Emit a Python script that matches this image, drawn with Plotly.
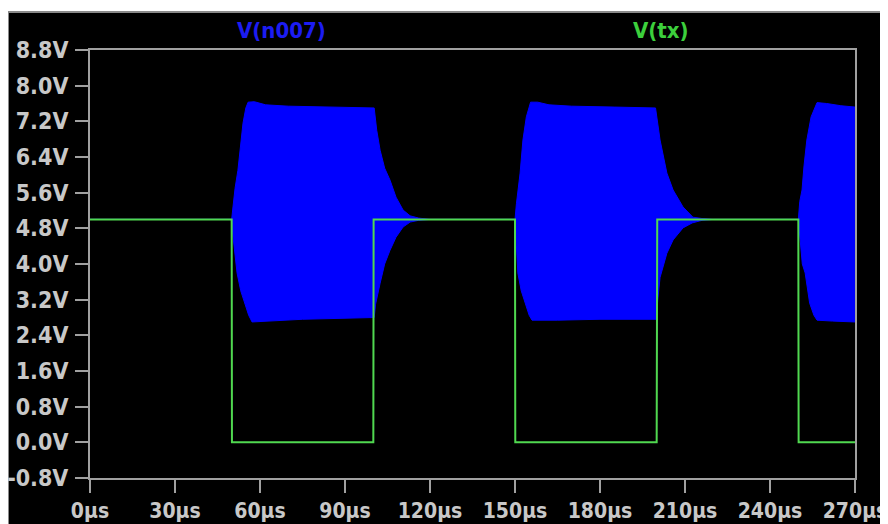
import plotly.graph_objects as go

# ---- data ----
# V(tx): square wave (time in µs, volts)
tx_time = [0, 50.0, 50.1, 100.0, 100.1, 150.0, 150.1, 200.0, 200.2, 250.0, 250.1, 270]
tx_volts = [5.0, 5.0, 0.0, 0.0, 5.0, 5.0, 0.0, 0.0, 5.0, 5.0, 0.0, 0.0]

# V(n007): dense oscillation, drawn as its upper / lower envelope
n007_upper_time = [0, 50.0, 50.5, 51.2, 52.2, 53.2, 54.0, 55.0, 55.8, 58, 62, 70, 85, 100.3,
                   101.2, 102.4, 104, 105.9, 108, 110.5, 113, 116, 120,
                   150.0, 150.5, 151.2, 151.8, 152.8, 154, 155.5, 158, 162, 170, 185, 199.6,
                   201.2, 203.6, 205.8, 209.3, 212.8, 216, 220,
                   250.0, 250.5, 251.3, 252, 253, 254.5, 256.6, 260, 265, 270]
n007_upper = [5.0, 5.0, 5.3, 5.7, 6.1, 6.7, 7.16, 7.5, 7.63, 7.64, 7.57, 7.54, 7.52, 7.5,
              7.0, 6.55, 6.15, 5.88, 5.5, 5.21, 5.08, 5.03, 5.0,
              5.0, 5.35, 5.75, 6.04, 6.78, 7.3, 7.63, 7.63, 7.57, 7.54, 7.52, 7.5,
              6.78, 6.04, 5.66, 5.28, 5.05, 5.02, 5.0,
              5.0, 5.4, 5.66, 6.2, 6.78, 7.3, 7.62, 7.6, 7.55, 7.52]

n007_lower_time = [0, 50.0, 50.5, 51.2, 51.9, 53.2, 54.7, 56, 57.2, 62, 75, 100.3,
                   100.8, 102.4, 104, 105.9, 108, 110.5, 113, 116, 120,
                   150.0, 150.5, 151.0, 152.2, 153.5, 155, 156, 165, 180, 199.8,
                   200.4, 201.2, 203.6, 205.8, 209.3, 212.5, 216, 220,
                   250.0, 250.6, 251.4, 252.4, 254, 255.5, 256.6, 262, 270]
n007_lower = [5.0, 5.0, 4.6, 4.2, 3.8, 3.4, 3.12, 2.85, 2.7, 2.72, 2.76, 2.8,
              3.1, 3.57, 4.0, 4.31, 4.6, 4.83, 4.94, 4.98, 5.0,
              5.0, 4.5, 3.8, 3.4, 3.12, 2.85, 2.74, 2.74, 2.76, 2.76,
              3.2, 3.7, 4.24, 4.54, 4.81, 4.92, 4.98, 5.0,
              5.0, 4.5, 4.0, 3.8, 3.12, 2.85, 2.74, 2.72, 2.7]

x_ticks = [0, 30, 60, 90, 120, 150, 180, 210, 240, 270]
x_ticktext = ["0µs", "30µs", "60µs", "90µs", "120µs", "150µs", "180µs", "210µs", "240µs", "270µs"]
y_ticks = [-0.8, 0.0, 0.8, 1.6, 2.4, 3.2, 4.0, 4.8, 5.6, 6.4, 7.2, 8.0, 8.8]
y_ticktext = ["-0.8V", "0.0V", "0.8V", "1.6V", "2.4V", "3.2V", "4.0V", "4.8V",
              "5.6V", "6.4V", "7.2V", "8.0V", "8.8V"]

BLUE = "#0000ff"
GREEN = "#50d850"
GREY_TXT = "#c8c8c8"
GREY_LINE = "#a0a0a0"
FONT = "DejaVu Sans Condensed, DejaVu Sans, Liberation Sans Narrow, sans-serif"

fig = go.Figure()
fig.add_trace(go.Scatter(x=n007_upper_time, y=n007_upper, mode="lines",
                         line=dict(color=BLUE, width=1), showlegend=False, hoverinfo="skip"))
fig.add_trace(go.Scatter(x=n007_lower_time, y=n007_lower, mode="lines", fill="tonexty",
                         fillcolor=BLUE, line=dict(color=BLUE, width=1),
                         showlegend=False, hoverinfo="skip"))
fig.add_trace(go.Scatter(x=tx_time, y=tx_volts, mode="lines",
                         line=dict(color=GREEN, width=2), showlegend=False))

W, H = 888, 524
OFF = 8  # page body margin
# plot area in screenshot pixels: x 90..855, y 50..478
L = 90 - OFF
T = 50 - OFF
R = W - (855 - OFF)
B = H - (478 - OFF)
pw, ph = W - L - R, H - T - B

def px_x(p):  # screenshot px -> paper
    return (p - OFF - L) / pw

def px_y(p):
    return (H - B - (p - OFF)) / ph

fig.add_shape(type="rect", xref="paper", yref="paper",
              x0=px_x(8), x1=px_x(W + 30), y0=px_y(H + 30), y1=px_y(12),
              fillcolor="black", line=dict(color="#8a8a8a", width=2), layer="below")

axis_common = dict(showgrid=False, zeroline=False, showline=True, linecolor=GREY_LINE,
                   linewidth=2, mirror=True, ticks="outside", ticklen=13, tickwidth=2,
                   tickcolor=GREY_LINE, layer="below traces")

fig.update_xaxes(range=[0, 270], tickmode="array", tickvals=x_ticks, ticktext=x_ticktext,
                 ticklabelstandoff=0,
                 tickfont=dict(family=FONT, size=21, color=GREY_TXT, weight="bold"),
                 **axis_common)
fig.update_yaxes(range=[-0.8, 8.8], tickmode="array", tickvals=y_ticks, ticktext=y_ticktext,
                 ticklabelstandoff=2,
                 tickfont=dict(family=FONT, size=23, color=GREY_TXT, weight="bold"),
                 **axis_common)

fig.add_annotation(text="V(n007)", xref="paper", yref="paper", x=px_x(281), y=px_y(30),
                   showarrow=False, xanchor="center", yanchor="middle",
                   font=dict(family=FONT, size=22, color="#1c1cf2", weight="bold"))
fig.add_annotation(text="V(tx)", xref="paper", yref="paper", x=px_x(661), y=px_y(30),
                   showarrow=False, xanchor="center", yanchor="middle",
                   font=dict(family=FONT, size=22, color="#3ccf3c", weight="bold"))

fig.update_layout(width=W, height=H, margin=dict(l=L, r=R, t=T, b=B, autoexpand=False),
                  paper_bgcolor="white", plot_bgcolor="black", showlegend=False)

fig.write_html("out.html")
